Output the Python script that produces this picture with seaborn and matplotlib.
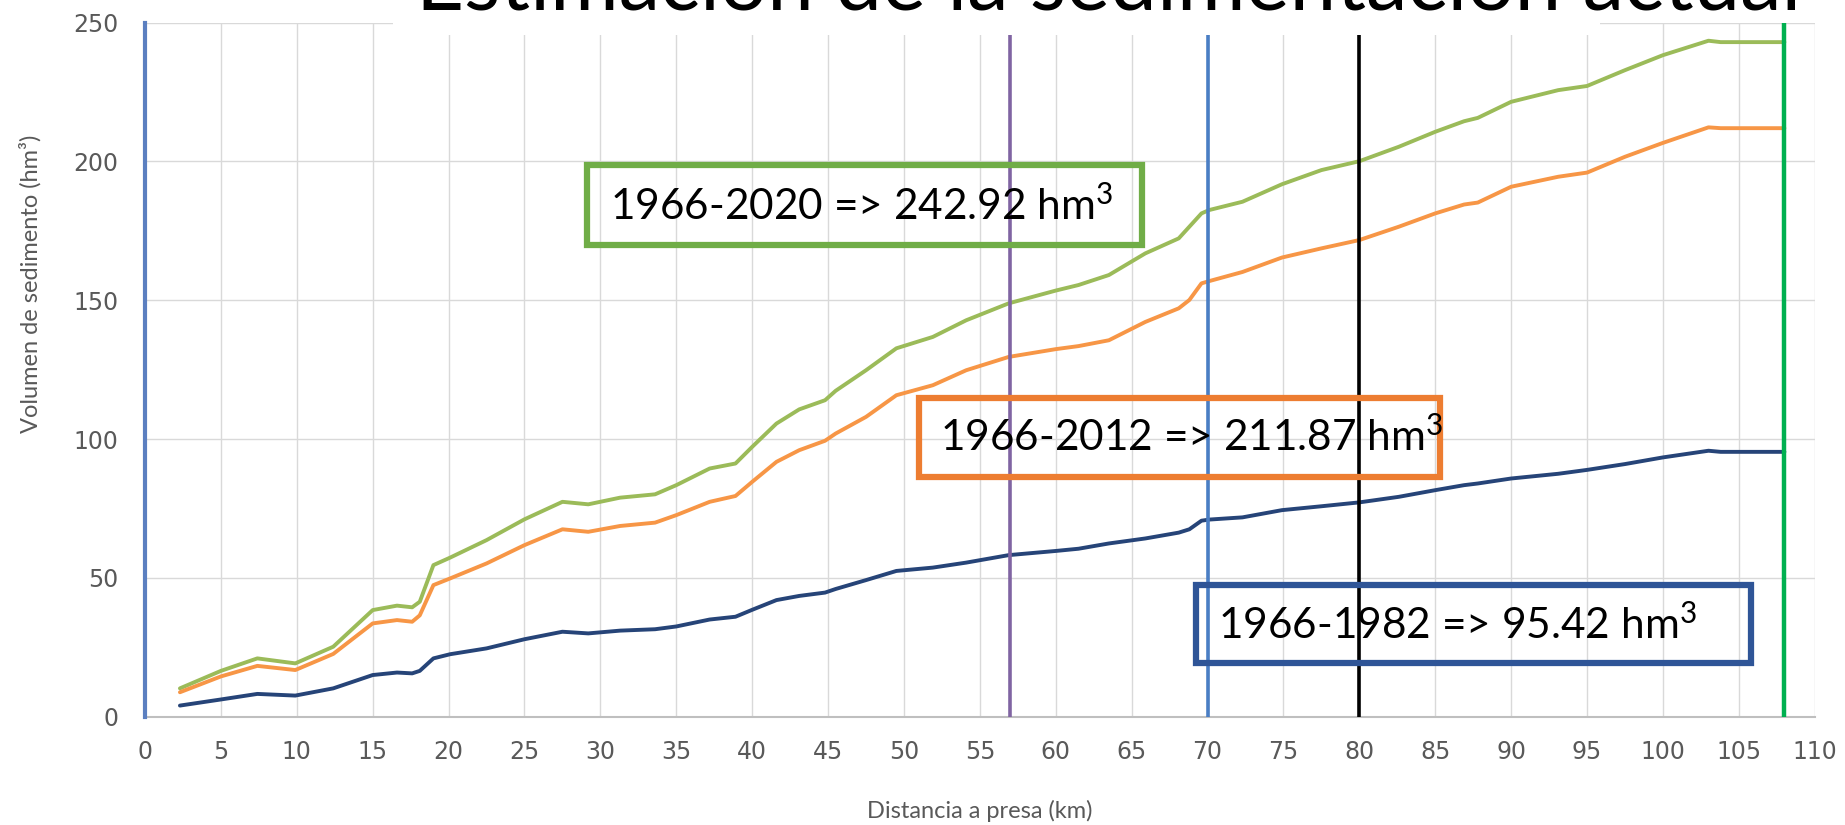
import matplotlib
matplotlib.use("Agg")
import matplotlib.pyplot as plt
import seaborn as sns
import pandas as pd
from matplotlib.patches import Rectangle

# distancia a presa (km) y volumen acumulado (hm3)
km = [2.3, 5, 7.4, 9.9, 12.4, 15, 16.6, 17.6, 18.1, 19, 20.1, 22.5, 25, 27.5, 29.2,
      31.3, 33.6, 35, 37.2, 38.9, 40, 41.6, 43.1, 44.8, 45.5, 47.5, 49.5, 51.9, 54.1,
      56.9, 60, 61.5, 63.5, 65.9, 68.1, 68.8, 69.6, 70.1, 72.3, 74.9, 77.5, 80, 82.6,
      85, 86.9, 87.8, 90, 93.1, 95, 97.5, 100, 103, 103.8, 108]

vol_2020 = [10.2, 16.5, 21.0, 19.2, 25.2, 38.4, 40.0, 39.4, 41.4, 54.6, 57.3, 63.6, 71.1,
            77.4, 76.5, 78.9, 80.1, 83.4, 89.4, 91.2, 97.2, 105.6, 110.7, 114.0, 117.4,
            124.8, 132.7, 136.8, 142.8, 148.9, 153.5, 155.5, 159.1, 166.9, 172.3, 176.5,
            181.3, 182.5, 185.5, 191.8, 196.9, 200.1, 205.3, 210.7, 214.5, 215.7, 221.5,
            225.7, 227.2, 232.9, 238.3, 243.5, 243.0, 243.0]

vol_2012 = [8.8, 14.5, 18.3, 16.8, 22.6, 33.6, 34.8, 34.2, 36.5, 47.4, 49.8, 55.2, 61.8,
            67.5, 66.6, 68.7, 69.9, 72.6, 77.4, 79.5, 84.6, 91.8, 96.0, 99.4, 102.0,
            108.0, 115.8, 119.4, 124.8, 129.6, 132.4, 133.5, 135.6, 142.2, 147.1, 150.1,
            156.1, 156.9, 160.2, 165.4, 168.7, 171.7, 176.5, 181.3, 184.5, 185.2, 190.9,
            194.5, 196.0, 201.7, 206.7, 212.3, 212.0, 212.0]

vol_1982 = [4.0, 6.2, 8.2, 7.6, 10.2, 15.0, 15.9, 15.6, 16.5, 21.0, 22.5, 24.6, 27.9,
            30.6, 30.0, 31.0, 31.5, 32.5, 35.0, 36.0, 38.5, 42.0, 43.5, 44.7, 46.0,
            49.2, 52.5, 53.7, 55.5, 58.2, 59.7, 60.5, 62.4, 64.2, 66.3, 67.5, 70.6,
            71.0, 71.8, 74.4, 75.8, 77.2, 79.2, 81.6, 83.4, 84.0, 85.8, 87.5, 88.9,
            91.0, 93.4, 95.8, 95.4, 95.4]

series_names = ['1966-2020', '1966-2012', '1966-1982']
line_colors = ['#9BBB59', '#F79646', '#264478']

box_texts = ['1966-2020 => 242.92 hm$^{3}$', '1966-2012 => 211.87 hm$^{3}$', '1966-1982 => 95.42 hm$^{3}$']
box_colors = ['#70AD47', '#ED7D31', '#2F5597']

marker_km = [57, 70, 80, 108]
marker_colors = ['#8064A2', '#4A7EC4', '#000000', '#00B050']

df = pd.concat([pd.DataFrame({'km': km, 'vol': v, 'serie': n})
                for v, n in zip([vol_2020, vol_2012, vol_1982], series_names)])

sns.set_style('white')
plt.rcParams['font.family'] = ['Lato', 'DejaVu Sans']
plt.rcParams['mathtext.fontset'] = 'custom'
plt.rcParams['mathtext.rm'] = 'Lato'
plt.rcParams['mathtext.it'] = 'Lato:italic'
plt.rcParams['mathtext.bf'] = 'Lato:bold'
plt.rcParams['mathtext.default'] = 'rm'

fig = plt.figure(figsize=(18.45, 8.25), dpi=100)
ax = fig.add_axes([0.0786, 0.1313, 0.905, 0.8412])

sns.lineplot(data=df, x='km', y='vol', hue='serie', palette=dict(zip(series_names, line_colors)),
             linewidth=2.8, legend=False, sort=False, ax=ax, zorder=3)

for xk, c in zip(marker_km, marker_colors):
    ax.axvline(xk, color=c, lw=2.6 if xk != 108 else 3.2, zorder=4)

ax.set_xlim(0, 110)
ax.set_ylim(0, 250)
ax.set_xticks(range(0, 111, 5))
ax.set_yticks(range(0, 251, 50))
ax.grid(True, color='#D9D9D9', lw=1)
ax.set_axisbelow(True)

for s in ['top', 'right']:
    ax.spines[s].set_visible(False)
ax.spines['bottom'].set_color('#BFBFBF')
ax.spines['bottom'].set_linewidth(1.5)
ax.spines['left'].set_color('#5B7FC0')
ax.spines['left'].set_linewidth(3)
ax.spines['left'].set_zorder(5)

ax.tick_params(axis='both', length=0, labelcolor='#595959', labelsize=17)
ax.tick_params(axis='y', pad=19)
ax.tick_params(axis='x', pad=17)
for lab in ax.get_xticklabels() + ax.get_yticklabels():
    lab.set_family('DejaVu Sans')

ax.set_xlabel('Distancia a presa (km)', fontsize=17, color='#595959')
ax.set_ylabel('Volumen de sedimento (hm³)', fontsize=17, color='#595959')
ax.xaxis.set_label_coords(0.5, -0.12)
ax.yaxis.set_label_coords(-0.062, 0.624)

# cuadros de texto
box_pos = [(0.265, 0.680, 0.332, 0.115), (0.4636, 0.3458, 0.312, 0.1137), (0.6296, 0.078, 0.3324, 0.112)]
text_pos = [(0.2785, 0.7357), (0.4763, 0.4034), (0.6424, 0.1324)]
for (bx, by, bw, bh), (tx, ty), t, c in zip(box_pos, text_pos, box_texts, box_colors):
    ax.add_patch(Rectangle((bx, by), bw, bh, transform=ax.transAxes, fill=False,
                           ec=c, lw=4.5, zorder=6, clip_on=False))
    ax.text(tx, ty, t, transform=ax.transAxes, fontsize=30.5, color='black',
            va='center', ha='left', zorder=7)

# titulo recortado en la parte superior
fig.patches.append(Rectangle((393 / 1845, 1 - 35 / 825), (1600 - 393) / 1845, 35 / 825,
                             transform=fig.transFigure, fc='white', ec='none', zorder=2))
fig.text(0.601, 0.988, 'Estimación de la sedimentación actual', fontsize=60,
         ha='center', va='baseline', color='black', zorder=3)

plt.savefig('out.png', dpi=100)
